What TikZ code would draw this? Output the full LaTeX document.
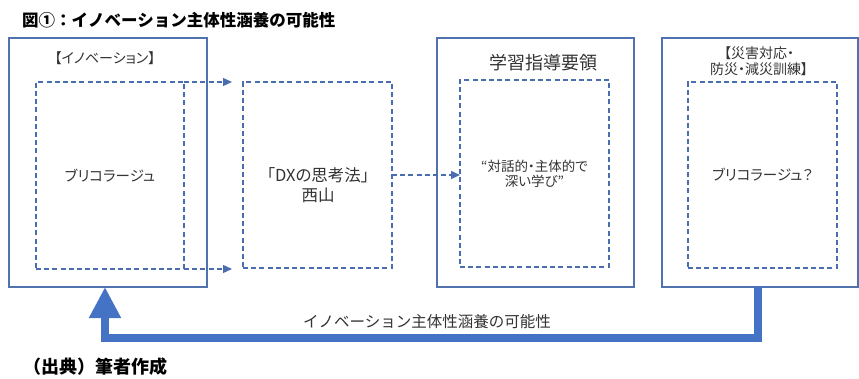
\documentclass[tikz,border=0pt]{standalone}
\usepackage{fontspec}
\setmainfont{Noto Sans CJK JP}
\newfontfamily\jpprop{Noto Sans CJK JP}[RawFeature=+palt]
\usetikzlibrary{arrows.meta}
\definecolor{frameblue}{HTML}{5072AE}
\definecolor{dashblue}{HTML}{4A6DB0}
\definecolor{arrowblue}{HTML}{4472C4}
\definecolor{txtgray}{HTML}{333333}

\begin{document}
\begin{tikzpicture}[x=1pt,y=1pt,
  framebox/.style={draw=frameblue,line width=1.3pt,inner sep=0pt,outer sep=0pt,
    minimum height=249pt},
  dashbox/.style={draw=dashblue,line width=1.4pt,dash pattern=on 5pt off 3.2pt,
    inner sep=0pt,outer sep=0pt,minimum width=149pt,minimum height=187pt,
    text=txtgray,align=center,font=\jpprop\fontsize{14.5}{17}\selectfont},
  dasharrow/.style={draw=dashblue,line width=1.4pt,dash pattern=on 5pt off 3.2pt,
    -{Triangle[length=9pt,width=8pt]}},
  bigarrow/.style={draw=arrowblue,line width=8pt,-{Triangle[length=31pt,width=30pt]}},
  boxtitle/.style={text=txtgray,align=center,inner sep=0pt}]
\useasboundingbox (0,0) rectangle (859,378);

% title and source
\node[anchor=west,inner sep=0pt,font=\fontsize{16.5}{18}\selectfont\bfseries] (title) at (22,358)
  {図①：イノベーション主体性涵養の可能性};
\node[anchor=west,inner sep=0pt,font=\fontsize{18}{20}\selectfont\bfseries] (source) at (23,11)
  {（出典）筆者作成};

% outer frames
\node[framebox,minimum width=198pt] (box1) at (108,215.5) {};
\node[framebox,minimum width=197pt] (box3) at (535.5,215.5) {};
\node[framebox,minimum width=196pt] (box4) at (760,215.5) {};

\node[boxtitle,font=\jpprop\fontsize{14}{16}\selectfont] (title1) at (105,320) {【イノベーション】};
\node[boxtitle,font=\fontsize{18}{20}\selectfont] (title3) at (543,315) {学習指導要領};
\node[boxtitle,font=\jpprop\fontsize{14}{16.5}\selectfont] (title4) at (759,317) {【災害対応・\\防災・減災訓練】};

% dashed boxes
\node[dashbox,minimum width=148pt] (bri) at (110,202.5) {ブリコラージュ};
\node[dashbox,minimum height=186pt] (dx) at (317.5,203) {};
\node[boxtitle,font=\jpprop\fontsize{16.5}{20}\selectfont] (dxtext) at (318,193) {「DXの思考法」\\西山};
\node[dashbox,font=\jpprop\fontsize{13.5}{15}\selectfont] (deep) at (534.5,204.5) {“対話的・主体的で\\深い学び”};
\node[dashbox,minimum height=186pt] (bri2) at (762.5,203) {ブリコラージュ？};

% connectors
\coordinate (topend) at (232,296);
\coordinate (lowend) at (232,109);
\draw[dasharrow] (bri.north east) -- (topend);
\draw[dasharrow] (bri.south east) -- (lowend);
\draw[dasharrow] (dx.east) -- (dx.east -| deep.west);

\coordinate (turn) at (105,40);
\draw[bigarrow] ([xshift=-5pt]bri2.south |- box4.south) |- (turn) -- ([xshift=-3pt]box1.south);
\node[text=txtgray,font=\fontsize{15.5}{18}\selectfont,inner sep=0pt] (looplabel) at (427,56)
  {イノベーション主体性涵養の可能性};
\end{tikzpicture}
\end{document}
